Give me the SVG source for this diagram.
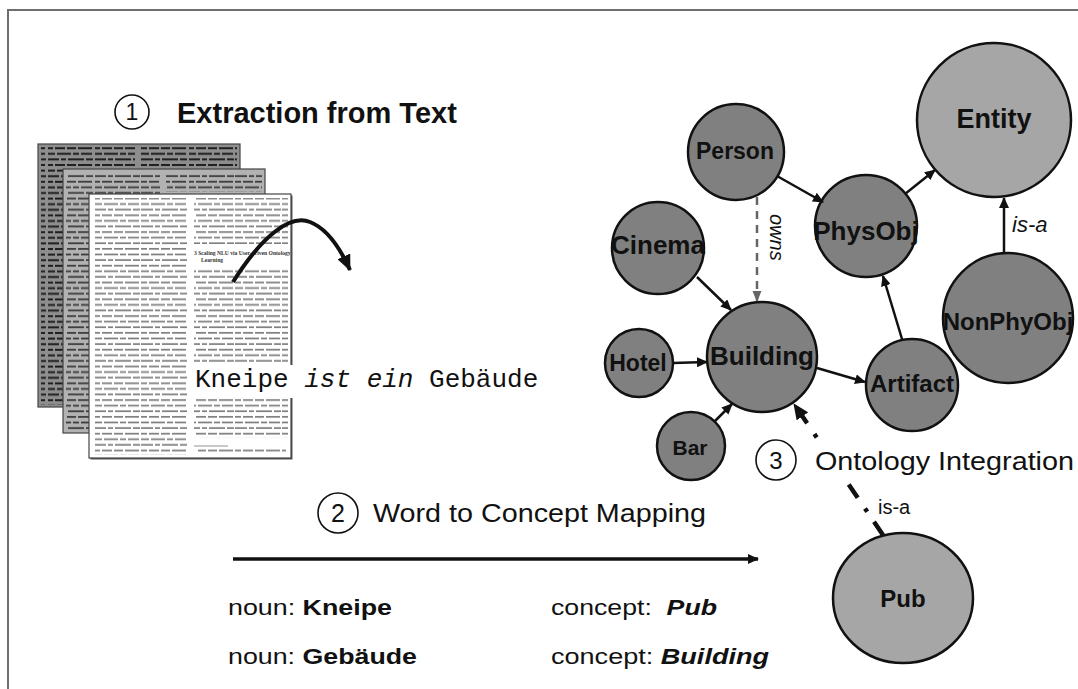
<svg xmlns="http://www.w3.org/2000/svg" width="1078" height="689" viewBox="0 0 1078 689">
<defs>
<style>
.node{stroke:#111;stroke-width:2.5}
.dark{fill:#808080}
.light{fill:#a6a6a6}
.lbl{font-family:"Liberation Sans",Arial,sans-serif;font-weight:bold;fill:#111;text-anchor:middle}
.sans{font-family:"Liberation Sans",Arial,sans-serif;fill:#111}
.edge{stroke:#111;stroke-width:2.5;fill:none;marker-end:url(#ah)}
.num{fill:#fff;stroke:#111;stroke-width:1.6}
.page{stroke:#444;stroke-width:1.2}
</style>
<marker id="ah" markerUnits="userSpaceOnUse" markerWidth="12" markerHeight="10" refX="10" refY="5" orient="auto"><path d="M0,0 L11,5 L0,10 Z" fill="#111"/></marker>
<marker id="ahGray" markerUnits="userSpaceOnUse" markerWidth="12" markerHeight="10" refX="10" refY="5" orient="auto"><path d="M0,0.5 L11,5 L0,9.5 Z" fill="#666"/></marker>
<marker id="ahBig" markerUnits="userSpaceOnUse" markerWidth="17" markerHeight="14" refX="15" refY="7" orient="auto"><path d="M0,0 L16,7 L0,14 Z" fill="#111"/></marker>
<!-- word-like strokes standing in for the printed body text of the paper pages -->
<pattern id="txtFront" width="47" height="16.8" patternUnits="userSpaceOnUse">
<g fill="#7d7d7d">
<rect x="0" y="1.6" width="8" height="1.7"/><rect x="10" y="1.6" width="14" height="1.7"/><rect x="26" y="1.6" width="6" height="1.7"/><rect x="34" y="1.6" width="11" height="1.7"/>
<rect x="0" y="7.2" width="12" height="1.7"/><rect x="14" y="7.2" width="5" height="1.7"/><rect x="21" y="7.2" width="16" height="1.7"/><rect x="39" y="7.2" width="7" height="1.7"/>
<rect x="0" y="12.8" width="6" height="1.7"/><rect x="8" y="12.8" width="10" height="1.7"/><rect x="20" y="12.8" width="9" height="1.7"/><rect x="31" y="12.8" width="14" height="1.7"/>
</g>
</pattern>
<pattern id="txtMid" width="47" height="16.8" patternUnits="userSpaceOnUse">
<g fill="#3c3c3c">
<rect x="0" y="1.6" width="8" height="1.8"/><rect x="10" y="1.6" width="14" height="1.8"/><rect x="26" y="1.6" width="6" height="1.8"/><rect x="34" y="1.6" width="11" height="1.8"/>
<rect x="0" y="7.2" width="12" height="1.8"/><rect x="14" y="7.2" width="5" height="1.8"/><rect x="21" y="7.2" width="16" height="1.8"/><rect x="39" y="7.2" width="7" height="1.8"/>
<rect x="0" y="12.8" width="6" height="1.8"/><rect x="8" y="12.8" width="10" height="1.8"/><rect x="20" y="12.8" width="9" height="1.8"/><rect x="31" y="12.8" width="14" height="1.8"/>
</g>
</pattern>
<pattern id="txtBack" width="47" height="16.8" patternUnits="userSpaceOnUse">
<g fill="#1e1e1e">
<rect x="0" y="1.6" width="8" height="2"/><rect x="10" y="1.6" width="14" height="2"/><rect x="26" y="1.6" width="6" height="2"/><rect x="34" y="1.6" width="11" height="2"/>
<rect x="0" y="7.2" width="12" height="2"/><rect x="14" y="7.2" width="5" height="2"/><rect x="21" y="7.2" width="16" height="2"/><rect x="39" y="7.2" width="7" height="2"/>
<rect x="0" y="12.8" width="6" height="2"/><rect x="8" y="12.8" width="10" height="2"/><rect x="20" y="12.8" width="9" height="2"/><rect x="31" y="12.8" width="14" height="2"/>
</g>
</pattern>
</defs>

<rect width="1078" height="689" fill="#fff"/>
<!-- frame -->
<path d="M8,689 L8,10 L1078,10" fill="none" stroke="#6e6e6e" stroke-width="2"/>

<!-- step 1: extraction from text -->
<g id="step1">
<circle class="num" cx="132" cy="112" r="17"/>
<text class="sans" x="132" y="120" font-size="23" text-anchor="middle">1</text>
<text class="sans" x="177" y="123" font-size="29" font-weight="bold">Extraction from Text</text>
</g>

<g id="documents">
<!-- back page -->
<rect class="page" x="38" y="144" width="202" height="263" fill="#8e8e8e"/>
<rect x="41" y="147" width="94" height="258" fill="url(#txtBack)"/>
<rect x="141" y="147" width="96" height="20" fill="url(#txtBack)"/>
<!-- middle page -->
<rect class="page" x="63" y="169" width="202" height="264" fill="#b2b2b2"/>
<rect x="66" y="172" width="94" height="258" fill="url(#txtMid)"/>
<rect x="166" y="172" width="96" height="20" fill="url(#txtMid)"/>
<!-- front page -->
<rect x="90.5" y="195.5" width="202" height="264" fill="#555"/>
<rect class="page" x="89" y="194" width="202" height="264" fill="#fff"/>
<rect x="93" y="198" width="94" height="257" fill="url(#txtFront)"/>
<rect x="194" y="198" width="94" height="46" fill="url(#txtFront)"/>
<text x="194" y="255" font-family="Liberation Serif,serif" font-size="5.6" font-weight="bold" fill="#333">3  Scaling NLU via User-driven Ontology</text>
<text x="201" y="261.5" font-family="Liberation Serif,serif" font-size="5.6" font-weight="bold" fill="#333">Learning</text>
<rect x="194" y="267" width="94" height="96" fill="url(#txtFront)"/>
<rect x="194" y="398" width="94" height="40" fill="url(#txtFront)"/>
<line x1="194" y1="446" x2="228" y2="446" stroke="#777" stroke-width="0.8"/>
<rect x="198" y="449" width="88" height="5" fill="url(#txtFront)"/>
</g>

<g id="sentence">
<rect x="191" y="365" width="112" height="33" fill="#fff"/>
<text x="195" y="387" font-family="Liberation Mono,monospace" font-size="26" fill="#111" xml:space="preserve">Kneipe <tspan font-style="italic">ist ein</tspan> Gebäude</text>
</g>

<!-- step 2: word to concept mapping -->
<g id="step2">
<circle class="num" cx="338" cy="513" r="20"/>
<text class="sans" x="338" y="522" font-size="25" text-anchor="middle">2</text>
<text class="sans" x="373" y="522" font-size="26" textLength="333" lengthAdjust="spacingAndGlyphs">Word to Concept Mapping</text>
<text class="sans" x="228" y="615" font-size="22" textLength="164" lengthAdjust="spacingAndGlyphs">noun: <tspan font-weight="bold">Kneipe</tspan></text>
<text class="sans" x="228" y="664" font-size="22" textLength="189" lengthAdjust="spacingAndGlyphs">noun: <tspan font-weight="bold">Gebäude</tspan></text>
<text class="sans" x="551" y="615" font-size="22" textLength="166" lengthAdjust="spacingAndGlyphs" xml:space="preserve">concept:  <tspan font-weight="bold" font-style="italic">Pub</tspan></text>
<text class="sans" x="551" y="664" font-size="22" textLength="218" lengthAdjust="spacingAndGlyphs">concept: <tspan font-weight="bold" font-style="italic">Building</tspan></text>
</g>

<!-- ontology nodes -->
<g id="node-entity"><circle class="node light" cx="994" cy="120" r="77"/><text class="lbl" x="994" y="128" font-size="27">Entity</text></g>
<g id="node-person"><circle class="node dark" cx="736" cy="152" r="48"/><text class="lbl" x="735" y="159" font-size="23">Person</text></g>
<g id="node-physobj"><circle class="node dark" cx="866" cy="226" r="51"/><text class="lbl" x="866" y="240" font-size="26">PhysObj</text></g>
<g id="node-cinema"><circle class="node dark" cx="658" cy="248" r="46"/><text class="lbl" x="658" y="254" font-size="26">Cinema</text></g>
<g id="node-nonphyobj"><circle class="node dark" cx="1008" cy="318" r="65"/><text class="lbl" x="1008" y="330" font-size="24">NonPhyObj</text></g>
<g id="node-building"><circle class="node dark" cx="762" cy="357" r="55"/><text class="lbl" x="762" y="365" font-size="26">Building</text></g>
<g id="node-hotel"><circle class="node dark" cx="639" cy="363" r="34"/><text class="lbl" x="638" y="371" font-size="23">Hotel</text></g>
<g id="node-artifact"><circle class="node dark" cx="912" cy="385" r="46"/><text class="lbl" x="912" y="392" font-size="24">Artifact</text></g>
<g id="node-bar"><circle class="node dark" cx="691" cy="446" r="34"/><text class="lbl" x="690" y="455" font-size="21">Bar</text></g>
<g id="node-pub"><ellipse class="node light" cx="903" cy="598" rx="70" ry="65"/><text class="lbl" x="903" y="607" font-size="24">Pub</text></g>

<!-- connectors -->
<g id="connectors">
<path d="M233,282 C262,236 290,214 310,222 C328,229 341,250 350,270" fill="none" stroke="#111" stroke-width="4" marker-end="url(#ahBig)"/>
<line x1="233" y1="559" x2="758" y2="559" stroke="#111" stroke-width="3.5" marker-end="url(#ah)"/>
<line class="edge" x1="777" y1="176" x2="823" y2="202"/>
<line class="edge" x1="905" y1="194" x2="935" y2="170"/>
<line class="edge" x1="1004" y1="254" x2="1004" y2="198"/>
<line class="edge" x1="697" y1="277" x2="731" y2="310"/>
<line class="edge" x1="673" y1="363" x2="707" y2="362"/>
<line class="edge" x1="715" y1="421" x2="732" y2="404"/>
<line class="edge" x1="817" y1="368" x2="865" y2="382"/>
<line class="edge" x1="902" y1="339" x2="883" y2="276"/>
<line x1="757" y1="197" x2="757" y2="301" stroke="#666" stroke-width="2.5" stroke-dasharray="8 6" marker-end="url(#ahGray)"/>
<path d="M883,535 L794,404" fill="none" stroke="#111" stroke-width="4.5" stroke-dasharray="16 12 4 13" marker-end="url(#ahBig)"/>
</g>

<!-- edge labels -->
<text class="sans" x="770" y="214" font-size="20" font-style="italic" transform="rotate(90 770 214)">owns</text>
<text class="sans" x="1012" y="232" font-size="22" font-style="italic">is-a</text>
<text class="sans" x="878" y="514" font-size="20">is-a</text>

<!-- step 3: ontology integration -->
<g id="step3">
<rect x="812" y="442" width="265" height="37" fill="#fff"/>
<circle class="num" cx="776" cy="460" r="20"/>
<text class="sans" x="776" y="469" font-size="24" text-anchor="middle">3</text>
<text class="sans" x="815" y="470" font-size="26" textLength="259" lengthAdjust="spacingAndGlyphs">Ontology Integration</text>
</g>
</svg>
